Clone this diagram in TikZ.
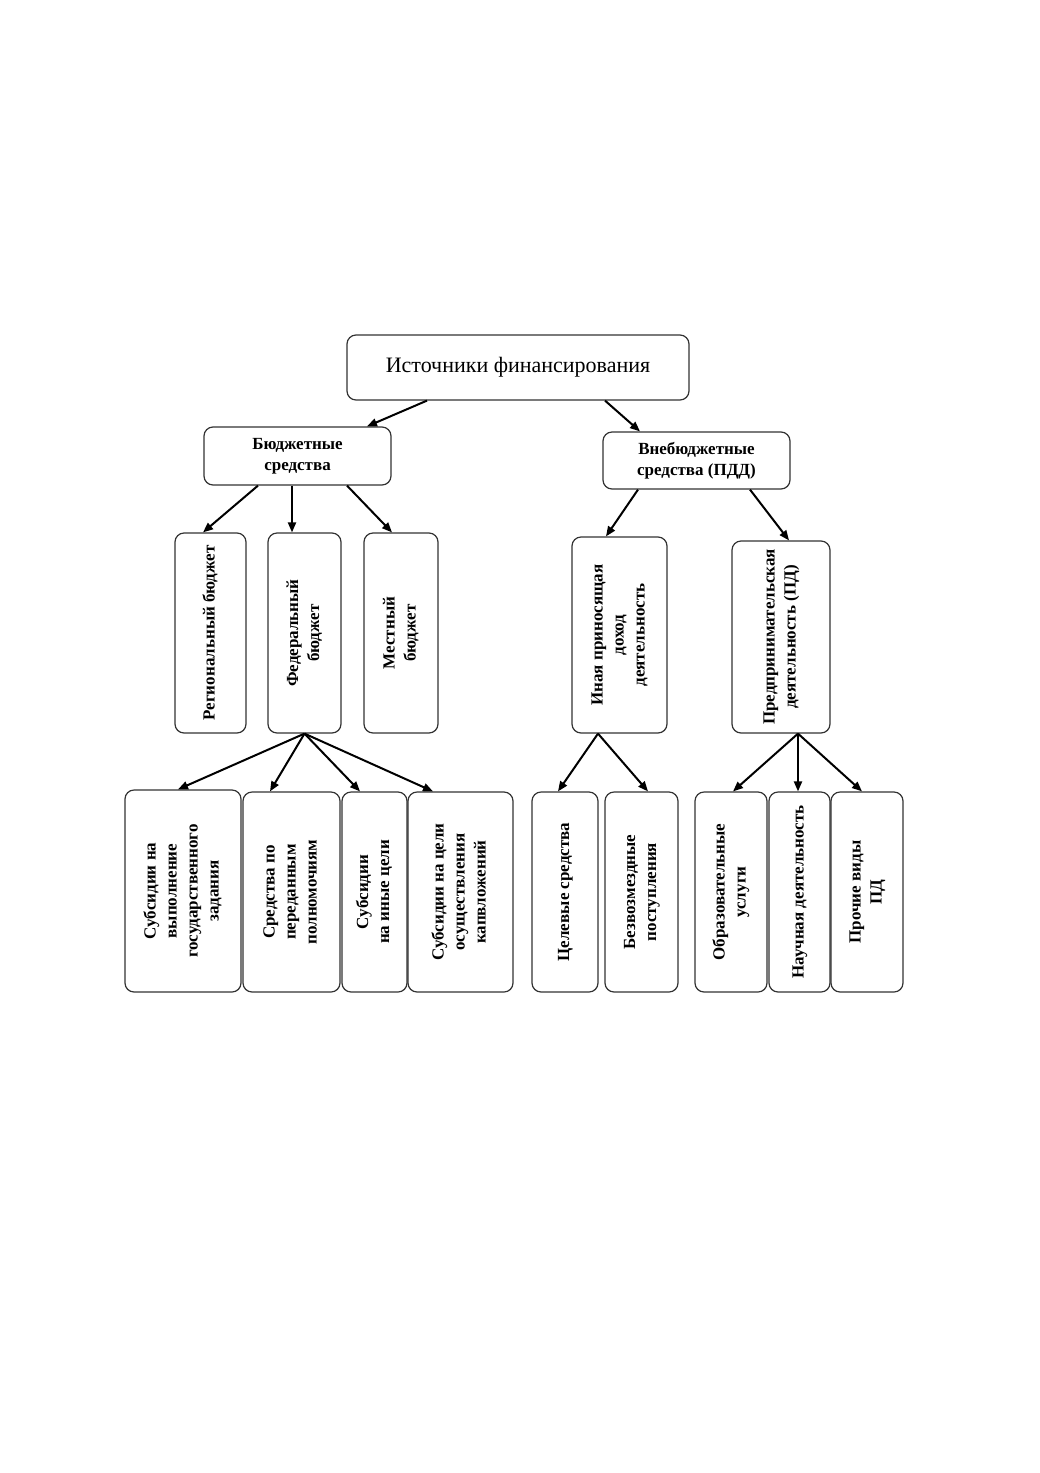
\documentclass[tikz,border=0pt]{standalone}
\usepackage{graphicx}
\usepackage{fontspec}
\setmainfont{Liberation Serif}
\usetikzlibrary{arrows.meta}
\newcommand{\Vt}[1]{\rotatebox{90}{\begin{tabular}{@{}c@{}}#1\end{tabular}}}
\tikzset{
  box/.style={draw=black!80, line width=1.2pt, rounded corners=9pt, fill=white,
    inner sep=0pt, font=\bfseries\fontsize{17}{21}\selectfont},
  arr/.style={-{Triangle[length=10pt,width=8pt]}, line width=2pt},
}

\begin{document}
\begin{tikzpicture}[x=1pt, y=-1pt]
  \fill[white] (0,0) rectangle (1040,1473);
  \useasboundingbox (0,0) rectangle (1040,1473);
  % top level
  \node[box, font=\fontsize{22}{26}\selectfont, minimum width=342pt, minimum height=65pt]
    (fin) at (518,367.5) {Источники финансирования};
  \node[box, align=center, minimum width=187pt, minimum height=58pt]
    (bud) at (297.5,456) {Бюджетные\\средства};
  \node[box, align=center, minimum width=187pt, minimum height=57pt]
    (vneb) at (696.5,460.5) {Внебюджетные\\средства (ПДД)};
  % second level
  \node[box, minimum width=71pt, minimum height=200pt] (reg) at (210.5,633) {\Vt{Региональный бюджет}};
  \node[box, minimum width=73pt, minimum height=200pt] (fed) at (304.5,633) {\Vt{Федеральный\\бюджет}};
  \node[box, minimum width=74pt, minimum height=200pt] (mest) at (401,633) {\Vt{Местный\\бюджет}};
  \node[box, minimum width=95pt, minimum height=196pt] (inaya) at (619.5,635) {\Vt{Иная приносящая\\доход\\деятельность}};
  \node[box, minimum width=98pt, minimum height=192pt] (pred) at (781,637) {\Vt{Предпринимательская\\деятельность (ПД)}};
  % third level
  \node[box, minimum width=116pt, minimum height=202pt] (zad) at (183,891) {\Vt{Субсидии на\\выполнение\\государственного\\задания}};
  \node[box, minimum width=97pt, minimum height=200pt] (poln) at (291.5,892) {\Vt{Средства по\\переданным\\полномочиям}};
  \node[box, minimum width=65pt, minimum height=200pt] (inye) at (374.5,892) {\Vt{Субсидии\\на иные цели}};
  \node[box, minimum width=105pt, minimum height=200pt] (kap) at (460.5,892) {\Vt{Субсидии на цели\\осуществления\\капвложений}};
  \node[box, minimum width=66pt, minimum height=200pt] (cel) at (565,892) {\Vt{Целевые средства}};
  \node[box, minimum width=73pt, minimum height=200pt] (bezv) at (641.5,892) {\Vt{Безвозмездные\\поступления}};
  \node[box, minimum width=72pt, minimum height=200pt] (obr) at (731,892) {\Vt{Образовательные\\услуги}};
  \node[box, minimum width=61pt, minimum height=200pt] (nauch) at (799.5,892) {\Vt{Научная деятельность}};
  \node[box, minimum width=72pt, minimum height=200pt] (proch) at (867,892) {\Vt{Прочие виды\\ПД}};
  % arrows
  \draw[arr] ([xshift=-91pt]fin.south) -- ([xshift=69.5pt]bud.north);
  \draw[arr] ([xshift=87pt]fin.south) -- ([xshift=-56.5pt]vneb.north);
  \draw[arr] ([xshift=-39.5pt]bud.south) -- ([xshift=-7.5pt]reg.north);
  \draw[arr] ([xshift=-5.5pt]bud.south) -- ([xshift=-12.5pt]fed.north);
  \draw[arr] ([xshift=49.5pt]bud.south) -- ([xshift=-9pt]mest.north);
  \draw[arr] ([xshift=-58.5pt]vneb.south) -- ([xshift=-13.5pt]inaya.north);
  \draw[arr] ([xshift=53.5pt]vneb.south) -- ([xshift=8pt]pred.north);
  \draw[arr] (fed.south) -- ([xshift=-5pt]zad.north);
  \draw[arr] (fed.south) -- ([xshift=-21.5pt]poln.north);
  \draw[arr] (fed.south) -- ([xshift=-14.5pt]inye.north);
  \draw[arr] (fed.south) -- ([xshift=-27.5pt]kap.north);
  \draw[arr] ([xshift=-21.5pt]inaya.south) -- ([xshift=-7pt]cel.north);
  \draw[arr] ([xshift=-21.5pt]inaya.south) -- ([xshift=6.5pt]bezv.north);
  \draw[arr] ([xshift=17pt]pred.south) -- ([xshift=2pt]obr.north);
  \draw[arr] ([xshift=17pt]pred.south) -- ([xshift=-1.5pt]nauch.north);
  \draw[arr] ([xshift=17pt]pred.south) -- ([xshift=-5pt]proch.north);
\end{tikzpicture}
\end{document}
